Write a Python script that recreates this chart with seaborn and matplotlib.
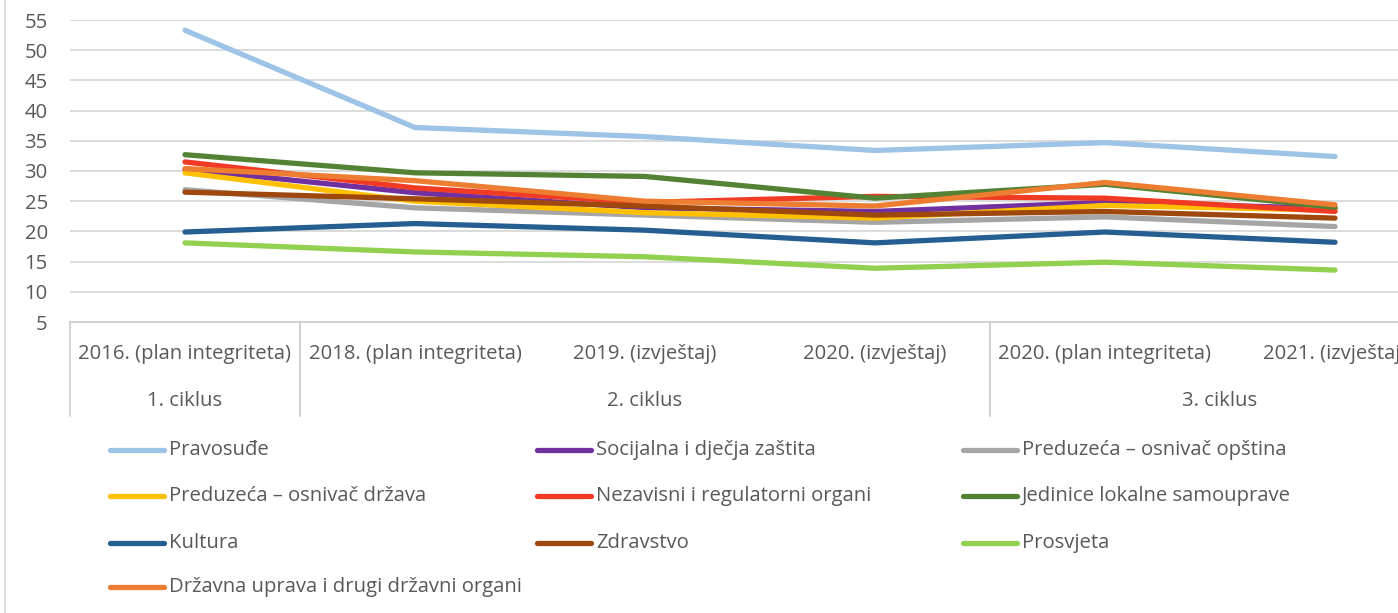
import pandas as pd
import matplotlib.pyplot as plt
import seaborn as sns
from matplotlib.lines import Line2D
import matplotlib.transforms as mtransforms

kategorije = ['2016. (plan integriteta)', '2018. (plan integriteta)', '2019. (izvještaj)',
              '2020. (izvještaj)', '2020. (plan integriteta)', '2021. (izvještaj)']
ciklusi = ['1. ciklus', '2. ciklus', '3. ciklus']
ciklus_kat = [[0], [1, 2, 3], [4, 5]]

serije = ['Pravosuđe', 'Socijalna i dječja zaštita', 'Preduzeća – osnivač opština',
          'Preduzeća – osnivač država', 'Nezavisni i regulatorni organi',
          'Jedinice lokalne samouprave', 'Kultura', 'Zdravstvo', 'Prosvjeta',
          'Državna uprava i drugi državni organi']

pravosudje = [53.3, 37.2, 35.7, 33.4, 34.7, 32.4]
socijalna = [30.3, 26.4, 23.9, 23.3, 24.8, 23.8]
opstina = [26.9, 23.9, 22.7, 21.5, 22.4, 20.8]
drzava = [29.7, 25.0, 23.1, 22.2, 24.3, 23.5]
nezavisni = [31.5, 27.2, 24.8, 25.8, 25.5, 23.3]
jedinice = [32.7, 29.7, 29.1, 25.5, 27.8, 24.0]
kultura = [19.9, 21.3, 20.2, 18.1, 19.9, 18.2]
zdravstvo = [26.5, 25.4, 24.2, 22.7, 23.3, 22.2]
prosvjeta = [18.1, 16.6, 15.8, 13.9, 14.9, 13.6]
drzavna_uprava = [30.4, 28.4, 25.0, 24.2, 28.1, 24.4]

vrijednosti = [pravosudje, socijalna, opstina, drzava, nezavisni, jedinice,
               kultura, zdravstvo, prosvjeta, drzavna_uprava]

boje = ['#9DC3E6', '#7030A0', '#A5A5A5', '#FFC000', '#F03A24',
        '#548235', '#255E91', '#9E480E', '#92D050', '#ED7D31']

redovi = []
for s, v in zip(serije, vrijednosti):
    for k, y in zip(kategorije, v):
        redovi.append({'kategorija': k, 'serija': s, 'vrijednost': y})
df = pd.DataFrame(redovi)

sns.set_style('white')
plt.rcParams['font.family'] = ['Open Sans', 'DejaVu Sans']
tekst = '#595959'
fs = 14.6

fig = plt.figure(figsize=(13.98, 6.13), dpi=100)
ax = fig.add_axes([70 / 1398, 1 - 322 / 613, 1380 / 1398, 302 / 613])

sns.lineplot(data=df, x='kategorija', y='vrijednost', hue='serija', hue_order=serije,
             palette=boje, linewidth=3.8, sort=False, legend=False, ax=ax,
             solid_capstyle='round')

ax.set_xlim(-0.5, 5.5)
ax.set_ylim(5, 55)
ax.set_yticks(range(5, 56, 5))
ax.yaxis.grid(True, color='#D9D9D9', linewidth=1.3)
ax.set_axisbelow(True)
for s in ['left', 'right', 'top']:
    ax.spines[s].set_visible(False)
ax.spines['bottom'].set_color('#D0D0D0')
ax.spines['bottom'].set_linewidth(1.3)
ax.set_xlabel('')
ax.set_ylabel('')
ax.tick_params(axis='y', length=0, pad=16, labelsize=fs, labelcolor=tekst)
ax.set_xticks(range(len(kategorije)))
ax.set_xticklabels(kategorije)
ax.tick_params(axis='x', length=0, pad=16, labelsize=fs, labelcolor=tekst)

# grupne oznake i separatori ispod osi
trans = mtransforms.blended_transform_factory(ax.transData, ax.transAxes)
for naziv, idx in zip(ciklusi, ciklus_kat):
    sredina = (idx[0] + idx[-1]) / 2
    ax.text(sredina, -0.26, naziv, transform=trans, ha='center', va='center',
            fontsize=fs, color=tekst)
    for gx in [idx[0] - 0.5, idx[-1] + 0.5]:
        ax.add_line(Line2D([gx, gx], [0, -0.31], transform=trans, color='#D0D0D0',
                           linewidth=1.3, clip_on=False))

# okvir grafikona lijevo
fig.add_artist(Line2D([5 / 1398, 5 / 1398], [0, 1], color='#D9D9D9', linewidth=1.3))

# legenda
kol_x = [110, 537, 963]
red_y = [450, 496, 543, 587]
for i, (s, b) in enumerate(zip(serije, boje)):
    r, c = divmod(i, 3)
    x0 = kol_x[c] / 1398
    y0 = 1 - red_y[r] / 613
    fig.add_artist(Line2D([x0, x0 + 54 / 1398], [y0, y0], color=b, linewidth=3.8,
                          solid_capstyle='round'))
    fig.text(x0 + 59 / 1398, y0, s, ha='left', va='center', fontsize=fs, color=tekst)

fig.savefig('out.png', dpi=100)
